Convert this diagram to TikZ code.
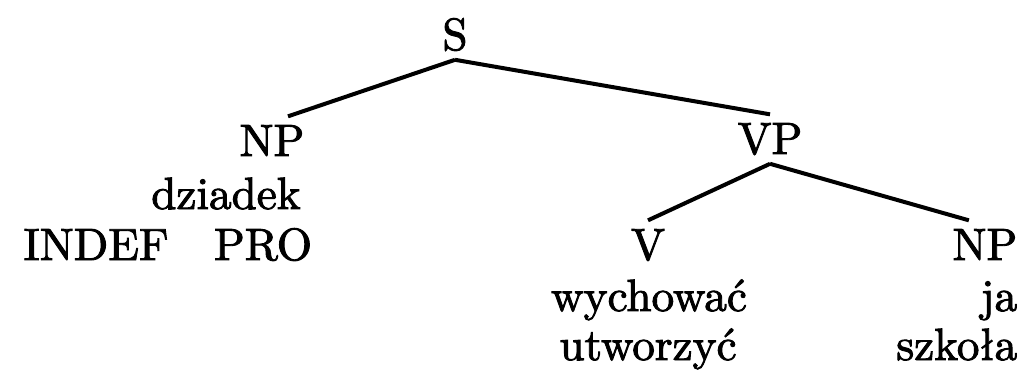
\documentclass[tikz,border=0pt]{standalone}
\usepackage{fontspec}
\newfontfamily\treefont{lmroman10-regular.otf}[FakeBold=2]
\usepackage{tikz}
\usetikzlibrary{positioning}

\begin{document}
\begin{tikzpicture}[x=0.25pt, y=-0.25pt,
    lbl/.style={anchor=base, inner sep=2pt, font=\treefont\fontsize{11.3}{13}\selectfont},
    rlbl/.style={lbl, anchor=base east},
    branch/.style={line width=1pt}]
            \useasboundingbox (0,0) rectangle (1023,375);
            % categories
            \node[lbl] (s) at (455,50) {S};
            \node[lbl] (np1) at (272,156) {NP};
            \node[lbl] (vp) at (770,154) {VP};
            \node[lbl] (v) at (648,260) {V};
            \node[rlbl] (np2) at (1026,260) {NP};
            % words
            \node[lbl] (dziadek) at (226,209) {dziadek};
            \node[lbl] (indef) at (96,260) {INDEF};
            \node[lbl] (pro) at (263,260) {PRO};
            \node[lbl] (wychowac) at (649,311) {wychować};
            \node[lbl] (utworzyc) at (648,360) {utworzyć};
            \node[rlbl] (ja) at (1026,311) {ja};
            \node[rlbl] (szkola) at (1026,360) {szkoła};
            % branches
            \draw[branch] (s.south) -- ([xshift=4pt]np1.north);
            \draw[branch] (s.south) -- (vp.north);
            \draw[branch] (vp.south) -- (v.north);
            \draw[branch] (vp.south) -- ([xshift=-4pt]np2.north);
        \end{tikzpicture}
\end{document}
